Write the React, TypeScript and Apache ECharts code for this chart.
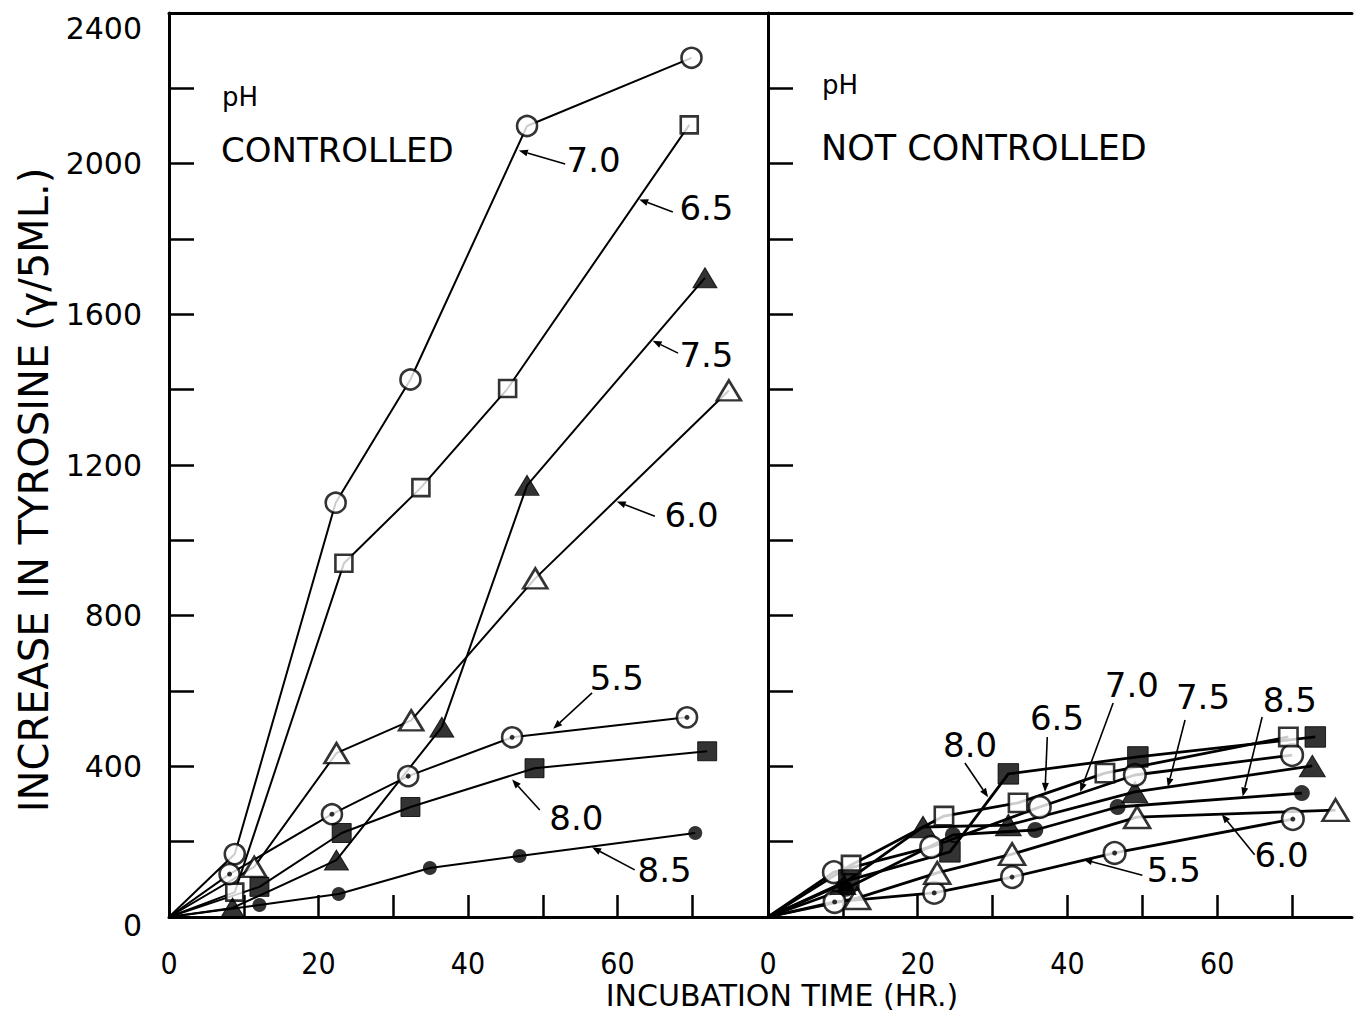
import React, { useEffect, useRef } from "react";
import * as echarts from "echarts";

// ---- Data: [incubation time (hr), increase in tyrosine (γ/5 ml)] ----
// pH controlled (left panel)
const ctrl55 = [[0, 0], [8.1, 114], [21.8, 273], [32.0, 374], [45.9, 477], [69.3, 530]];
const ctrl60 = [[0, 0], [11.4, 133], [22.4, 435], [32.4, 522], [49.0, 899], [74.9, 1398]];
const ctrl65 = [[0, 0], [8.8, 66], [23.4, 939], [33.7, 1140], [45.3, 1403], [69.6, 2103]];
const ctrl70 = [[0, 0], [8.8, 167], [22.3, 1100], [32.3, 1427], [47.9, 2100], [69.9, 2281]];
const ctrl75 = [[0, 0], [8.5, 24], [22.4, 151], [36.5, 504], [47.9, 1146], [71.7, 1697]];
const ctrl80 = [[0, 0], [12.1, 80], [23.1, 223], [32.3, 292], [48.9, 395], [72.0, 440]];
const ctrl85 = [[0, 0], [12.1, 32], [22.7, 61], [34.9, 130], [46.9, 162], [70.4, 223]];

// pH not controlled (right panel)
const free55 = [[0, 0], [8.9, 40], [22.2, 64], [32.6, 106], [46.3, 170], [70.1, 260]];
const free60 = [[0, 0], [11.9, 50], [22.6, 117], [32.6, 167], [49.3, 265], [75.8, 284]];
const free65 = [[0, 0], [11.1, 138], [23.5, 268], [33.4, 303], [45.0, 382], [69.5, 478]];
const free70 = [[0, 0], [8.8, 119], [21.8, 186], [36.3, 292], [49.0, 377], [70.0, 430]];
const free75 = [[0, 0], [10.0, 88], [20.7, 239], [32.1, 244], [49.0, 332], [72.7, 401]];
const free80 = [[0, 0], [10.8, 98], [24.3, 173], [32.1, 380], [49.4, 425], [73.1, 478]];
const free85 = [[0, 0], [10.4, 75], [24.7, 218], [35.7, 231], [46.7, 292], [71.3, 329]];

// Axis ticks / labels
const yTickValues = [200, 400, 600, 800, 1000, 1200, 1400, 1600, 1800, 2000, 2200];
const yLabelValues = [0, 400, 800, 1200, 1600, 2000, 2400];
const xTickValues = [10, 20, 30, 40, 50, 60, 70];
const xLabelValues = [0, 20, 40, 60];

// Curve labels (pH) with arrow in data coordinates: text position, arrow start, arrow end
const ctrlNotes = [
  { label: "7.0", at: [56.8, 2010], from: [53.0, 1999], to: [46.8, 2035] },
  { label: "6.5", at: [71.9, 1882], from: [67.4, 1872], to: [62.9, 1905] },
  { label: "7.5", at: [71.9, 1492], from: [68.1, 1497], to: [64.7, 1530] },
  { label: "6.0", at: [69.9, 1067], from: [65.0, 1064], to: [59.9, 1103] },
  { label: "5.5", at: [59.9, 634], from: [56.6, 595], to: [51.4, 500] },
  { label: "8.0", at: [54.5, 263], from: [49.6, 284], to: [45.9, 365] },
  { label: "8.5", at: [66.3, 125], from: [62.3, 125], to: [56.6, 185] },
];
const freeNotes = [
  { label: "8.0", at: [27.0, 457], from: [26.3, 409], to: [29.4, 318] },
  { label: "6.5", at: [38.6, 528], from: [37.3, 478], to: [37.0, 332] },
  { label: "7.0", at: [48.6, 616], from: [46.1, 568], to: [41.7, 332] },
  { label: "7.5", at: [58.1, 584], from: [55.7, 523], to: [53.4, 345] },
  { label: "8.5", at: [69.7, 576], from: [66.0, 531], to: [63.4, 320] },
  { label: "6.0", at: [68.6, 165], from: [65.0, 165], to: [60.6, 273] },
  { label: "5.5", at: [54.2, 125], from: [50.0, 111], to: [42.1, 153] },
];

const FONT = '"DejaVu Sans", "Liberation Sans", sans-serif';
const FONT_C = '"DejaVu Sans Condensed", "DejaVu Sans", sans-serif';

type Kind = "ring" | "ringDot" | "triOpen" | "sqOpen" | "tri" | "sq" | "disc";

function markerStyle(kind: Kind, big: boolean) {
  const s = big ? 1.08 : 1;
  switch (kind) {
    case "ring":
    case "ringDot":
      return { symbol: "circle", symbolSize: 20 * s, itemStyle: { color: "#fff", borderColor: "#000", borderWidth: 2.6 } };
    case "triOpen":
      return { symbol: "triangle", symbolSize: [24 * s, 20 * s], itemStyle: { color: "#fff", borderColor: "#000", borderWidth: 2.6 } };
    case "sqOpen":
      return { symbol: "rect", symbolSize: 17 * s, itemStyle: { color: "#fff", borderColor: "#000", borderWidth: 2.6 } };
    case "tri":
      return { symbol: "triangle", symbolSize: [24 * s, 20 * s], itemStyle: { color: "#000", borderColor: "#000", borderWidth: 1 } };
    case "sq":
      return { symbol: "rect", symbolSize: 19 * s, itemStyle: { color: "#000", borderColor: "#000", borderWidth: 1 } };
    case "disc":
    default:
      return { symbol: "circle", symbolSize: big ? 16 : 14, itemStyle: { color: "#000" } };
  }
}

function makeSeries(name: string, data: number[][], kind: Kind, grid: number) {
  const big = grid === 1;
  const out: any[] = [
    {
      name: name + " line",
      type: "line",
      xAxisIndex: grid,
      yAxisIndex: grid,
      data,
      showSymbol: false,
      symbol: "none",
      lineStyle: { color: "#000", width: big ? 2.8 : 2 },
      z: 2,
      silent: true,
    },
    {
      name,
      type: "scatter",
      xAxisIndex: grid,
      yAxisIndex: grid,
      data: data.filter((d) => d[0] > 0),
      ...markerStyle(kind, big),
      z: 3,
      silent: true,
    },
  ];
  if (kind === "ringDot") {
    out.push({
      name: name + " dot",
      type: "scatter",
      xAxisIndex: grid,
      yAxisIndex: grid,
      data: data.filter((d) => d[0] > 0),
      symbol: "circle",
      symbolSize: 5,
      itemStyle: { color: "#000" },
      z: 4,
      silent: true,
    });
  }
  return out;
}

const axisLine = { show: true, lineStyle: { color: "#000", width: 3 } };

function xAxisFor(grid: number, max: number) {
  return {
    type: "value",
    gridIndex: grid,
    min: 0,
    max,
    position: "bottom",
    axisLine,
    splitLine: { show: false },
    axisTick: { show: true, inside: true, length: 22, customValues: xTickValues, lineStyle: { color: "#000", width: 2.5 } },
    axisLabel: {
      show: true,
      customValues: xLabelValues,
      margin: 31,
      color: "#000",
      fontSize: 30,
      fontFamily: FONT_C,
      formatter: (v: number) => String(v),
    },
  };
}
function topFrame(grid: number, max: number) {
  return {
    type: "value",
    gridIndex: grid,
    min: 0,
    max,
    position: "top",
    axisLine,
    axisTick: { show: false },
    axisLabel: { show: false },
    splitLine: { show: false },
  };
}
function yAxisFor(grid: number) {
  return {
    type: "value",
    gridIndex: grid,
    min: 0,
    max: 2400,
    axisLine,
    splitLine: { show: false },
    axisTick: { show: true, inside: true, length: 25, customValues: yTickValues, lineStyle: { color: "#000", width: 2.5 } },
    axisLabel: {
      show: grid === 0,
      customValues: yLabelValues,
      margin: 27,
      color: "#000",
      fontSize: 30,
      fontFamily: FONT,
      formatter: (v: number) => (v === 2400 ? "{top|2400}" : v === 0 ? "{bot|0}" : String(v)),
      rich: {
        top: { fontSize: 30, fontFamily: FONT, color: "#000", padding: [30, 0, 0, 0] },
        bot: { fontSize: 30, fontFamily: FONT, color: "#000", padding: [16, 0, 0, 0] },
      },
    },
  };
}

export default function App() {
  const ref = useRef<HTMLDivElement>(null);
  useEffect(() => {
    const chart = echarts.init(ref.current!, null, { renderer: "svg" });
    const series = [
      ...makeSeries("pH 7.0 controlled", ctrl70, "ring", 0),
      ...makeSeries("pH 6.5 controlled", ctrl65, "sqOpen", 0),
      ...makeSeries("pH 7.5 controlled", ctrl75, "tri", 0),
      ...makeSeries("pH 6.0 controlled", ctrl60, "triOpen", 0),
      ...makeSeries("pH 5.5 controlled", ctrl55, "ringDot", 0),
      ...makeSeries("pH 8.0 controlled", ctrl80, "sq", 0),
      ...makeSeries("pH 8.5 controlled", ctrl85, "disc", 0),
      ...makeSeries("pH 5.5 not controlled", free55, "ringDot", 1),
      ...makeSeries("pH 6.0 not controlled", free60, "triOpen", 1),
      ...makeSeries("pH 8.5 not controlled", free85, "disc", 1),
      ...makeSeries("pH 7.5 not controlled", free75, "tri", 1),
      ...makeSeries("pH 7.0 not controlled", free70, "ring", 1),
      ...makeSeries("pH 6.5 not controlled", free65, "sqOpen", 1),
      ...makeSeries("pH 8.0 not controlled", free80, "sq", 1),
    ];
    chart.setOption({
      animation: false,
      backgroundColor: "#fff",
      grid: [
        { left: 169, top: 13, width: 598, height: 904 },
        { left: 768, top: 13, width: 584, height: 904 },
      ],
      xAxis: [xAxisFor(0, 80), xAxisFor(1, 78), topFrame(0, 80), topFrame(1, 78)],
      yAxis: [yAxisFor(0), yAxisFor(1)],
      series,
    });

    const graphic: any[] = [
      {
        type: "text",
        x: 34,
        y: 490,
        rotation: Math.PI / 2,
        style: { text: "INCREASE IN TYROSINE (γ/5ML.)", font: `40px ${FONT}`, fill: "#000", align: "center", verticalAlign: "middle" },
      },
      {
        type: "text",
        x: 782,
        y: 995,
        style: { text: "INCUBATION TIME (HR.)", font: `30px ${FONT}`, fill: "#000", align: "center", verticalAlign: "middle" },
      },
      { type: "text", x: 222, y: 97, style: { text: "pH", font: `26px ${FONT}`, fill: "#000", verticalAlign: "middle" } },
      { type: "text", x: 221, y: 150, style: { text: "CONTROLLED", font: `34px ${FONT}`, fill: "#000", verticalAlign: "middle" } },
      { type: "text", x: 822, y: 85, style: { text: "pH", font: `26px ${FONT}`, fill: "#000", verticalAlign: "middle" } },
      { type: "text", x: 821, y: 148, style: { text: "NOT CONTROLLED", font: `35px ${FONT}`, fill: "#000", verticalAlign: "middle" } },
    ];

    const addNotes = (notes: typeof ctrlNotes, gridIndex: number) => {
      for (const n of notes) {
        const p = chart.convertToPixel({ gridIndex } as any, n.at) as number[];
        const a = chart.convertToPixel({ gridIndex } as any, n.from) as number[];
        const b = chart.convertToPixel({ gridIndex } as any, n.to) as number[];
        graphic.push({
          type: "text",
          x: p[0],
          y: p[1],
          style: { text: n.label, font: `34px ${FONT}`, fill: "#000", align: "center", verticalAlign: "middle" },
          z: 10,
        });
        const dx = b[0] - a[0];
        const dy = b[1] - a[1];
        const len = Math.hypot(dx, dy) || 1;
        const ux = dx / len;
        const uy = dy / len;
        const hl = 9;
        const hw = 3.5;
        const bx = b[0] - ux * hl;
        const by = b[1] - uy * hl;
        graphic.push({
          type: "line",
          shape: { x1: a[0], y1: a[1], x2: bx, y2: by },
          style: { stroke: "#000", lineWidth: 1.6 },
          z: 10,
        });
        graphic.push({
          type: "polygon",
          shape: {
            points: [
              [b[0], b[1]],
              [bx - uy * hw, by + ux * hw],
              [bx + uy * hw, by - ux * hw],
            ],
          },
          style: { fill: "#000" },
          z: 10,
        });
      }
    };
    addNotes(ctrlNotes, 0);
    addNotes(freeNotes, 1);
    chart.setOption({ graphic });

    return () => chart.dispose();
  }, []);
  return (
    <div
      ref={ref}
      style={{ position: "fixed", left: 0, top: 0, width: 1354, height: 1015, background: "#fff" }}
    />
  );
}
